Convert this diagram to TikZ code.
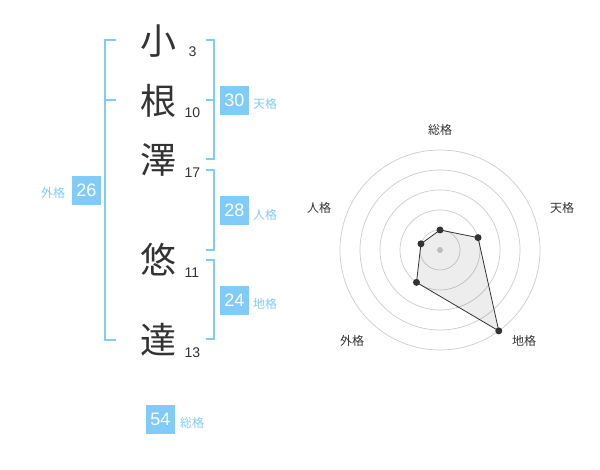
\documentclass[tikz,border=0pt]{standalone}
\usepackage{fontspec}
\usetikzlibrary{calc}
\setmainfont{Liberation Sans}
\newfontfamily\cjk{Noto Sans CJK JP}
\definecolor{kblue}{HTML}{80CBF8}
\definecolor{ktext}{HTML}{333333}
\begin{document}
\begin{tikzpicture}[x=1pt,y=-1pt,
  kanji/.style={font=\cjk\fontsize{36}{40}\selectfont, text=ktext, inner sep=0},
  strokes/.style={font=\fontsize{14}{16}\selectfont, text=ktext, anchor=base, inner sep=0},
  valbox/.style={fill=kblue, text=white, minimum width=29pt, minimum height=29pt, inner sep=0, font=\fontsize{18}{20}\selectfont},
  kaku/.style={font=\cjk\fontsize{12}{14}\selectfont, text=kblue, inner sep=0},
  bracket/.style={draw=kblue, line width=2pt},
  ring/.style={draw=gray!40, line width=0.7pt},
  axislab/.style={font=\cjk\fontsize{12}{14}\selectfont, text=ktext, inner sep=0},
  dot/.style={circle, fill=ktext, minimum size=7pt, inner sep=0},
]
\useasboundingbox (0,0) rectangle (600,470);

% name characters
\node[kanji] (c1) at (158,41) {小};
\node[kanji] (c2) at (158,101) {根};
\node[kanji] (c3) at (158,160) {澤};
\node[kanji] (c4) at (158,260) {悠};
\node[kanji] (c5) at (158,340) {達};
\node[strokes] (n1) at (192.5,57) {3};
\node[strokes] (n2) at (192.5,118) {10};
\node[strokes] (n3) at (192.5,178) {17};
\node[strokes] (n4) at (192,278) {11};
\node[strokes] (n5) at (192.5,358) {13};

% brackets
\draw[bracket] (116,40) -- (105,40) -- (105,340) -- (116,340);
\draw[bracket] (105,100) -- (116,100);
\draw[bracket] (206,40) -- (214,40) -- (214,159) -- (206,159);
\draw[bracket] (206,100) -- (214,100);
\draw[bracket] (206,170) -- (214,170) -- (214,250) -- (206,250);
\draw[bracket] (206,260) -- (214,260) -- (214,339) -- (206,339);

% value boxes
\node[valbox] (ten) at (234.5,100.5) {30};
\node[kaku, anchor=west] (tenl) at (253,104) {天格};
\node[valbox] (jin) at (234.5,210.5) {28};
\node[kaku, anchor=west] (jinl) at (253,215) {人格};
\node[valbox] (chi) at (234.5,300.5) {24};
\node[kaku, anchor=west] (chil) at (253,304) {地格};
\node[valbox] (gai) at (86.5,190.5) {26};
\node[kaku] (gail) at (53,193) {外格};
\node[valbox] (sou) at (160.5,419) {54};
\node[kaku, anchor=west] (soul) at (180,423) {総格};

% radar chart
\coordinate (o) at (440,250);
\foreach \r in {20,40,60,80,100} \draw[ring] (o) circle (\r);
\fill[gray!40] (o) circle (3);
\coordinate (p1) at ($(o)+(-90:20)$);
\coordinate (p2) at ($(o)+(-18:40)$);
\coordinate (p3) at ($(o)+(54:100)$);
\coordinate (p4) at ($(o)+(126:40)$);
\coordinate (p5) at ($(o)+(198:20)$);
\draw[draw=ktext, line width=0.8pt, fill=black, fill opacity=0.07] (p1) -- (p2) -- (p3) -- (p4) -- (p5) -- cycle;
\foreach \p in {p1,p2,p3,p4,p5} \node[dot] at (\p) {};
\node[axislab] (a1) at (440,130) {総格};
\node[axislab] (a2) at (562,208) {天格};
\node[axislab] (a3) at (524,341) {地格};
\node[axislab] (a4) at (352,341) {外格};
\node[axislab] (a5) at (319,208) {人格};
\end{tikzpicture}
\end{document}
